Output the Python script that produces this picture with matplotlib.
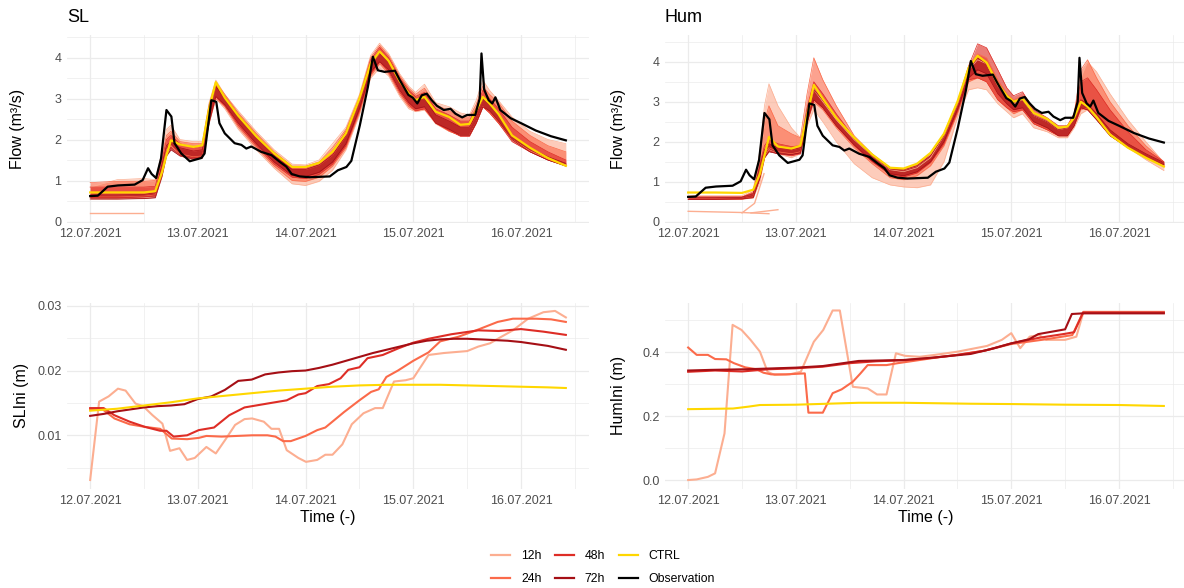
import matplotlib
matplotlib.use("Agg")
import matplotlib.pyplot as plt
from matplotlib.lines import Line2D

plt.rcParams['font.family'] = ['Liberation Sans', 'DejaVu Sans']

# ---------------------------------------------------------------------------
# Time axis: hours since 12.07.2021 00:00
# ---------------------------------------------------------------------------
day_ticks = [0, 24, 48, 72, 96]
day_labels = ['12.07.2021', '13.07.2021', '14.07.2021', '15.07.2021', '16.07.2021']
half_day_ticks = [12, 36, 60, 84, 108]

group_names = ['12h', '24h', '48h', '72h']
group_colors = ['#FCAE91', '#FB6A4A', '#DE2D26', '#A50F15']
ctrl_color = '#FFD700'
obs_color = '#000000'

# ---------------------------------------------------------------------------
# Observed discharge (m3/s)
# ---------------------------------------------------------------------------
obs_hours = [0, 1.7, 3.9, 6.2, 9.9, 11.7, 12.9, 13.7, 14.7, 15.8, 17.0, 18.1, 18.8,
             20.3, 22.2, 24.8, 25.5, 27.0, 28.1, 28.8, 30.0, 32.2, 33.7, 34.8, 35.9,
             38.1, 40.4, 42.2, 43.7, 44.9, 46.7, 48.9, 51.1, 53.4, 55.2, 57.1, 58.2,
             60.1, 61.9, 63.0, 64.1, 65.6, 67.9, 69.0, 70.9, 71.9, 72.9, 73.9, 75.0,
             76.1, 77.3, 78.8, 80.3, 81.4, 82.9, 84.0, 85.8, 86.8, 87.2, 87.8, 88.8,
             89.6, 90.3, 91.4, 93.7, 96.0, 99.3, 102.7, 106.0]
obs_flow = [0.62, 0.63, 0.85, 0.88, 0.90, 1.01, 1.30, 1.16, 1.06, 1.54, 2.72, 2.56, 1.91,
            1.66, 1.47, 1.55, 1.66, 2.96, 2.92, 2.40, 2.15, 1.91, 1.87, 1.78, 1.83,
            1.70, 1.62, 1.46, 1.34, 1.16, 1.10, 1.08, 1.09, 1.10, 1.25, 1.33, 1.48,
            2.35, 3.29, 4.02, 3.69, 3.65, 3.68, 3.45, 3.09, 3.02, 2.88, 3.08, 3.12,
            2.96, 2.82, 2.72, 2.75, 2.63, 2.54, 2.60, 2.60, 3.00, 4.10, 3.22, 2.96,
            2.88, 3.03, 2.72, 2.52, 2.40, 2.22, 2.08, 1.98]

# ---------------------------------------------------------------------------
# Simulated discharge: CTRL run and envelopes (lower / upper member) of each
# assimilation-window ensemble, on a common time grid
# ---------------------------------------------------------------------------
ens_hours = [0, 6, 12, 14.5, 16, 17, 18, 20, 23, 25, 26.5, 28, 30, 33, 37, 41, 45, 48,
             51, 54, 57, 60, 62.5, 64.5, 66.5, 69, 71, 72.5, 74.5, 77, 80, 82.5, 84.5,
             86, 87.5, 89, 91, 94, 98, 102, 106]

sl_ctrl = [0.71, 0.71, 0.71, 0.74, 1.20, 1.62, 1.98, 1.88, 1.82, 1.86, 2.75, 3.40, 3.02,
           2.58, 2.08, 1.66, 1.33, 1.33, 1.43, 1.70, 2.15, 3.00, 3.85, 4.15, 3.92, 3.42,
           3.12, 2.96, 3.04, 2.68, 2.55, 2.36, 2.38, 2.70, 3.04, 2.88, 2.62, 2.10, 1.80,
           1.55, 1.36]

sl_12h_lo = [0.55, 0.55, 0.58, 0.60, 1.10, 1.70, 1.85, 1.60, 1.50, 1.55, 2.40, 3.00, 2.75,
             2.25, 1.75, 1.30, 0.92, 0.88, 0.98, 1.25, 1.75, 2.60, 3.50, 3.75, 3.55, 3.05,
             2.75, 2.68, 2.72, 2.38, 2.20, 2.10, 2.10, 2.40, 2.80, 2.65, 2.40, 2.00, 1.72,
             1.52, 1.38]
sl_12h_hi = [0.84, 1.02, 1.05, 1.02, 1.70, 2.25, 2.35, 2.00, 1.95, 1.95, 2.90, 3.45, 3.10,
             2.70, 2.20, 1.75, 1.40, 1.38, 1.50, 1.90, 2.30, 3.10, 4.05, 4.35, 4.10, 3.60,
             3.30, 3.15, 3.35, 2.90, 2.80, 2.65, 2.60, 2.95, 3.45, 3.20, 2.95, 2.55, 2.20,
             2.00, 1.90]
sl_24h_lo = [0.60, 0.60, 0.62, 0.65, 1.20, 1.75, 1.85, 1.65, 1.58, 1.60, 2.45, 3.00, 2.80,
             2.30, 1.80, 1.35, 1.00, 0.98, 1.08, 1.35, 1.80, 2.65, 3.55, 3.85, 3.60, 3.10,
             2.80, 2.70, 2.75, 2.40, 2.20, 2.10, 2.10, 2.40, 2.80, 2.65, 2.40, 2.00, 1.72,
             1.52, 1.38]
sl_24h_hi = [0.95, 0.98, 0.98, 1.00, 1.60, 2.10, 2.20, 1.95, 1.90, 1.90, 2.85, 3.40, 3.10,
             2.65, 2.15, 1.70, 1.35, 1.35, 1.45, 1.80, 2.25, 3.05, 4.00, 4.30, 4.05, 3.55,
             3.25, 3.10, 3.25, 2.85, 2.70, 2.55, 2.55, 2.85, 3.30, 3.10, 2.90, 2.45, 2.10,
             1.85, 1.70]
sl_48h_lo = [0.58, 0.58, 0.60, 0.62, 1.15, 1.70, 1.80, 1.62, 1.55, 1.58, 2.45, 3.05, 2.82,
             2.35, 1.85, 1.40, 1.08, 1.05, 1.15, 1.40, 1.85, 2.70, 3.60, 3.90, 3.65, 3.15,
             2.85, 2.70, 2.75, 2.40, 2.22, 2.08, 2.08, 2.40, 2.80, 2.65, 2.40, 1.95, 1.70,
             1.50, 1.36]
sl_48h_hi = [0.84, 0.84, 0.84, 0.86, 1.50, 2.00, 2.10, 1.90, 1.80, 1.85, 2.80, 3.35, 3.05,
             2.60, 2.10, 1.65, 1.30, 1.30, 1.42, 1.70, 2.20, 3.00, 3.95, 4.25, 4.00, 3.50,
             3.20, 3.05, 3.15, 2.75, 2.60, 2.45, 2.45, 2.75, 3.20, 3.00, 2.75, 2.30, 1.95,
             1.70, 1.50]
sl_72h_lo = [0.55, 0.55, 0.56, 0.58, 1.10, 1.60, 1.75, 1.60, 1.52, 1.55, 2.40, 3.05, 2.85,
             2.40, 1.90, 1.45, 1.12, 1.10, 1.20, 1.45, 1.90, 2.75, 3.65, 3.90, 3.70, 3.20,
             2.90, 2.75, 2.80, 2.40, 2.25, 2.10, 2.10, 2.40, 2.80, 2.70, 2.45, 2.00, 1.70,
             1.50, 1.35]
sl_72h_hi = [0.65, 0.65, 0.66, 0.70, 1.40, 1.85, 1.95, 1.80, 1.72, 1.75, 2.70, 3.30, 3.00,
             2.55, 2.05, 1.62, 1.27, 1.27, 1.38, 1.62, 2.10, 2.95, 3.85, 4.10, 3.90, 3.40,
             3.10, 2.95, 3.00, 2.60, 2.45, 2.30, 2.30, 2.60, 3.00, 2.85, 2.60, 2.10, 1.80,
             1.58, 1.42]
# a short 12h member that starts far below the others
sl_12h_extra_hours = [0, 11.7]
sl_12h_extra_flow = [0.21, 0.21]

hum_ctrl = [0.73, 0.73, 0.72, 0.80, 1.20, 1.65, 2.12, 1.88, 1.83, 1.90, 2.65, 3.42, 3.08,
            2.60, 2.10, 1.68, 1.35, 1.33, 1.45, 1.72, 2.20, 3.00, 3.85, 4.15, 3.98, 3.45,
            3.15, 3.00, 3.08, 2.72, 2.57, 2.35, 2.38, 2.60, 3.00, 2.88, 2.62, 2.18, 1.85,
            1.60, 1.38]

hum_12h_lo = [0.56, 0.56, 0.56, 0.60, 1.00, 1.60, 1.80, 1.70, 1.60, 1.70, 2.40, 2.80, 2.50,
              2.00, 1.45, 1.10, 0.92, 0.87, 0.85, 0.92, 1.50, 2.60, 3.30, 3.35, 3.30, 2.95,
              2.75, 2.60, 2.70, 2.35, 2.25, 2.10, 2.10, 2.35, 2.70, 2.80, 2.60, 2.20, 1.85,
              1.55, 1.28]
hum_12h_hi = [0.65, 0.65, 0.65, 0.80, 1.80, 2.90, 3.45, 2.90, 2.35, 2.10, 2.70, 3.30, 3.00,
              2.55, 2.05, 1.65, 1.30, 1.25, 1.35, 1.60, 2.15, 2.95, 3.80, 4.05, 3.95, 3.40,
              3.10, 2.95, 3.05, 2.65, 2.50, 2.30, 2.35, 2.60, 3.60, 4.00, 3.75, 3.20, 2.55,
              2.00, 1.48]
hum_24h_lo = [0.57, 0.57, 0.57, 0.62, 1.10, 1.70, 1.85, 1.75, 1.70, 1.75, 2.50, 3.00, 2.80,
              2.35, 1.85, 1.45, 1.10, 1.05, 1.15, 1.40, 1.90, 2.70, 3.50, 3.60, 3.50, 3.05,
              2.85, 2.70, 2.80, 2.45, 2.30, 2.15, 2.15, 2.40, 2.80, 2.85, 2.60, 2.20, 1.85,
              1.60, 1.40]
hum_24h_hi = [0.62, 0.62, 0.62, 0.75, 1.60, 2.50, 2.90, 2.40, 2.20, 2.10, 3.20, 4.10, 3.55,
              2.90, 2.15, 1.70, 1.35, 1.30, 1.40, 1.70, 2.20, 3.00, 3.85, 4.20, 4.10, 3.55,
              3.20, 3.05, 3.15, 2.75, 2.55, 2.35, 2.40, 2.70, 3.80, 4.05, 3.60, 3.00, 2.40,
              1.90, 1.50]
hum_48h_lo = [0.56, 0.56, 0.57, 0.62, 1.10, 1.60, 1.78, 1.70, 1.65, 1.70, 2.50, 3.05, 2.85,
              2.40, 1.90, 1.50, 1.18, 1.12, 1.22, 1.48, 1.95, 2.75, 3.55, 3.60, 3.50, 3.05,
              2.85, 2.75, 2.80, 2.45, 2.30, 2.15, 2.15, 2.40, 2.85, 2.80, 2.55, 2.15, 1.85,
              1.62, 1.42]
hum_48h_hi = [0.62, 0.62, 0.62, 0.72, 1.45, 1.90, 2.05, 1.95, 1.88, 1.90, 2.85, 3.50, 3.20,
              2.70, 2.10, 1.68, 1.35, 1.32, 1.42, 1.70, 2.20, 3.00, 3.90, 4.45, 4.35, 3.80,
              3.35, 3.15, 3.25, 2.80, 2.60, 2.40, 2.40, 2.70, 3.50, 3.60, 3.30, 2.80, 2.25,
              1.80, 1.50]
hum_72h_lo = [0.56, 0.56, 0.57, 0.60, 1.10, 1.60, 1.75, 1.70, 1.68, 1.72, 2.50, 3.05, 2.85,
              2.40, 1.92, 1.52, 1.20, 1.15, 1.25, 1.50, 2.00, 2.80, 3.60, 3.80, 3.70, 3.20,
              2.95, 2.80, 2.85, 2.50, 2.35, 2.15, 2.15, 2.40, 2.85, 2.80, 2.55, 2.15, 1.85,
              1.62, 1.42]
hum_72h_hi = [0.60, 0.60, 0.61, 0.70, 1.40, 1.80, 1.95, 1.85, 1.80, 1.85, 2.70, 3.30, 3.05,
              2.60, 2.08, 1.65, 1.32, 1.30, 1.40, 1.65, 2.15, 2.95, 3.80, 4.10, 3.95, 3.45,
              3.15, 3.00, 3.05, 2.65, 2.50, 2.30, 2.35, 2.60, 3.05, 2.95, 2.70, 2.30, 1.95,
              1.70, 1.48]
# short 12h members that start far below the others
hum_12h_extra1_hours = [0, 12, 18]
hum_12h_extra1_flow = [0.26, 0.23, 0.20]
hum_12h_extra2_hours = [14, 17, 20]
hum_12h_extra2_flow = [0.22, 0.26, 0.30]
hum_12h_extra3_hours = [12, 14.8, 16.9]
hum_12h_extra3_flow = [0.22, 0.46, 1.20]

# ---------------------------------------------------------------------------
# Initial states SLIni (m)
# ---------------------------------------------------------------------------
sli_ctrl_hours = [0, 6, 12, 18, 24, 30, 36, 42, 48, 54, 60, 66, 72, 78, 84, 90, 96, 102, 106]
sli_ctrl = [0.0138, 0.0141, 0.0146, 0.0151, 0.0157, 0.0161, 0.0165, 0.0169, 0.0172, 0.0175,
            0.0177, 0.0178, 0.0178, 0.0178, 0.0177, 0.0176, 0.0175, 0.0174, 0.0173]

sli_72h_hours = [0, 3, 6, 9, 12, 15, 18, 21, 24, 27, 30, 33, 36, 39, 42, 45, 48, 51, 54, 57,
                 60, 63, 66, 69, 72, 75, 78, 81, 84, 87, 90, 93, 96, 99, 102, 106]
sli_72h = [0.0130, 0.0133, 0.0137, 0.0140, 0.0143, 0.0145, 0.0146, 0.0148, 0.0156, 0.0160,
           0.0170, 0.0184, 0.0186, 0.0194, 0.0197, 0.0199, 0.0200, 0.0204, 0.0209, 0.0215,
           0.0221, 0.0227, 0.0232, 0.0237, 0.0242, 0.0246, 0.0248, 0.0249, 0.0249, 0.0248,
           0.0247, 0.0246, 0.0244, 0.0241, 0.0238, 0.0232]

sli_48h_hours = [0, 3, 5.4, 8.8, 12.2, 15.6, 17, 18.6, 21.6, 24.2, 27.6, 31, 34.4, 39.5, 43.8,
                 46.4, 48, 50.6, 53.2, 55.8, 57.5, 60, 61.8, 65.2, 68.6, 72, 75.4, 80.5, 86.5,
                 91, 96, 101, 106]
sli_48h = [0.0142, 0.0142, 0.0131, 0.0121, 0.0113, 0.0107, 0.0107, 0.0098, 0.0100, 0.0108,
           0.0112, 0.0131, 0.0143, 0.0149, 0.0154, 0.0163, 0.0165, 0.0176, 0.0179, 0.0188,
           0.0201, 0.0205, 0.0219, 0.0224, 0.0234, 0.0243, 0.0249, 0.0256, 0.0262, 0.0261,
           0.0264, 0.0260, 0.0255]

sli_24h_hours = [0, 2.8, 5.4, 8.8, 12.2, 15.6, 18.2, 21.6, 24.2, 25.9, 29.3, 32.7, 36.1, 39.5,
                 41.3, 43, 44.7, 48, 50.6, 52.4, 56.6, 60, 62.6, 64.3, 66, 68.6, 72, 75.4, 78,
                 82, 86, 90.8, 94.2, 99.3, 102.7, 106]
sli_24h = [0.0140, 0.0140, 0.0126, 0.0117, 0.0113, 0.0110, 0.0095, 0.0094, 0.0096, 0.0099,
           0.0098, 0.0099, 0.0100, 0.0100, 0.0098, 0.0091, 0.0091, 0.0099, 0.0108, 0.0112,
           0.0136, 0.0154, 0.0167, 0.0171, 0.0190, 0.0200, 0.0215, 0.0228, 0.0245, 0.0252,
           0.0262, 0.0275, 0.0280, 0.0280, 0.0279, 0.0275]

sli_12h_hours = [0, 2, 4.1, 6.2, 7.9, 10.1, 11.8, 13.9, 16.1, 17.8, 19.9, 21.6, 23.3, 25.9, 28,
                 30.1, 32.3, 34.4, 36.1, 38.7, 40.4, 42.1, 43.8, 46.4, 48.1, 50.6, 52.4, 54,
                 56.2, 58.3, 60.9, 63.5, 65.2, 67.7, 70.3, 72, 75.4, 78.8, 84, 86.5, 89.1,
                 91.6, 94.2, 97.6, 101, 103.6, 106]
sli_12h = [0.0031, 0.0152, 0.0160, 0.0172, 0.0169, 0.0149, 0.0145, 0.0131, 0.0118, 0.0076,
           0.0080, 0.0062, 0.0065, 0.0082, 0.0072, 0.0093, 0.0116, 0.0125, 0.0126, 0.0121,
           0.0110, 0.0110, 0.0077, 0.0065, 0.0059, 0.0062, 0.0070, 0.0070, 0.0086, 0.0117,
           0.0134, 0.0142, 0.0142, 0.0183, 0.0185, 0.0188, 0.0224, 0.0227, 0.0230, 0.0237,
           0.0242, 0.0252, 0.0262, 0.0280, 0.0290, 0.0292, 0.0282]

# ---------------------------------------------------------------------------
# Initial states HumIni (m)
# ---------------------------------------------------------------------------
humi_ctrl_hours = [0, 10, 13.5, 16, 24, 38, 48, 63, 72, 84, 96, 106]
humi_ctrl = [0.222, 0.224, 0.230, 0.235, 0.236, 0.242, 0.242, 0.239, 0.238, 0.236, 0.235, 0.232]

humi_72h_hours = [0, 5, 13, 24, 30, 38, 48, 55, 63, 68, 72, 76, 78, 84, 85.5, 88, 106]
humi_72h = [0.343, 0.345, 0.347, 0.352, 0.357, 0.373, 0.376, 0.384, 0.395, 0.412, 0.428,
            0.441, 0.457, 0.472, 0.520, 0.522, 0.522]

humi_48h_hours = [0, 6, 12, 18, 24, 30, 36, 42, 48, 54, 60, 66, 72, 78, 84, 86, 88, 106]
humi_48h = [0.339, 0.343, 0.340, 0.347, 0.350, 0.355, 0.366, 0.372, 0.375, 0.382, 0.392,
            0.405, 0.428, 0.445, 0.458, 0.463, 0.525, 0.525]

humi_24h_hours = [0, 1.9, 4.4, 6, 8.5, 10.2, 12.7, 15.2, 16.8, 18.5, 21.8, 26, 26.8, 30, 32.2,
                  34.2, 36.7, 38.4, 40, 44.2, 46.7, 49.2, 55, 60, 66, 72, 79.8, 85.6, 88, 106]
humi_24h = [0.415, 0.392, 0.392, 0.379, 0.378, 0.366, 0.353, 0.347, 0.336, 0.331, 0.331,
            0.334, 0.211, 0.211, 0.272, 0.284, 0.308, 0.334, 0.360, 0.360, 0.366, 0.371,
            0.383, 0.392, 0.405, 0.426, 0.441, 0.454, 0.524, 0.524]

humi_12h_hours = [0, 1.9, 4.4, 6, 8.1, 9.9, 11.9, 13.9, 16, 17.7, 19.3, 22.6, 25.1, 28, 30.1,
                  32.2, 33.8, 36.7, 40, 42.1, 44.2, 46.3, 48.3, 51.6, 55, 60, 66.6, 69.9, 72,
                  74, 76.1, 78.2, 79.8, 84, 86.5, 88.1, 106]
humi_12h = [0.0, 0.002, 0.010, 0.021, 0.146, 0.486, 0.470, 0.439, 0.402, 0.339, 0.329, 0.331,
            0.339, 0.433, 0.470, 0.531, 0.531, 0.292, 0.287, 0.268, 0.268, 0.397, 0.389,
            0.386, 0.392, 0.402, 0.420, 0.439, 0.460, 0.413, 0.449, 0.454, 0.439, 0.439,
            0.449, 0.527, 0.527]

# ---------------------------------------------------------------------------
# Figure layout
# ---------------------------------------------------------------------------
W, H = 1184, 588
fig = plt.figure(figsize=(W / 100, H / 100), dpi=100)


def add_panel(x0, x1, y0, y1):
    return fig.add_axes([x0 / W, 1 - y1 / H, (x1 - x0) / W, (y1 - y0) / H])


ax_sl = add_panel(67, 589, 35, 222.5)
ax_hum = add_panel(665, 1187, 35, 222.5)
ax_sli = add_panel(67, 589, 302.5, 489)
ax_humi = add_panel(665, 1187, 302.5, 489)

GRID = '#EBEBEB'
TICK_COLOR = '#4D4D4D'


def style(ax, ylim, yticks, ylabels, yminor):
    ax.set_xlim(-5.16, 111.16)
    ax.set_ylim(*ylim)
    for s in ax.spines.values():
        s.set_visible(False)
    ax.set_xticks(day_ticks)
    ax.set_xticklabels(day_labels)
    ax.set_xticks(half_day_ticks, minor=True)
    ax.set_yticks(yticks)
    ax.set_yticklabels(ylabels)
    ax.set_yticks(yminor, minor=True)
    ax.tick_params(which='both', length=0, labelsize=9, labelcolor=TICK_COLOR, pad=4)
    ax.grid(which='major', color=GRID, lw=0.9)
    ax.grid(which='minor', color=GRID, lw=0.5)
    ax.set_axisbelow(True)


def draw_ensemble(ax, bands, ctrl):
    for (lo, hi), col in zip(bands, group_colors):
        ax.fill_between(ens_hours, lo, hi, color=col, alpha=0.62, lw=0)
        ax.plot(ens_hours, lo, color=col, lw=0.5)
        ax.plot(ens_hours, hi, color=col, lw=0.5)
    ax.plot(ens_hours, ctrl, color=ctrl_color, lw=1.6)
    ax.plot(obs_hours, obs_flow, color=obs_color, lw=1.6)


# --- SL discharge ---
ax_sl.plot(sl_12h_extra_hours, sl_12h_extra_flow, color=group_colors[0], lw=1.0)
draw_ensemble(ax_sl,
              [(sl_12h_lo, sl_12h_hi), (sl_24h_lo, sl_24h_hi),
               (sl_48h_lo, sl_48h_hi), (sl_72h_lo, sl_72h_hi)],
              sl_ctrl)
style(ax_sl, (-0.024, 4.55), [0, 1, 2, 3, 4], ['0', '1', '2', '3', '4'],
      [0.5, 1.5, 2.5, 3.5, 4.5])

# --- Hum discharge ---
for hh, ff in [(hum_12h_extra1_hours, hum_12h_extra1_flow),
               (hum_12h_extra2_hours, hum_12h_extra2_flow),
               (hum_12h_extra3_hours, hum_12h_extra3_flow)]:
    ax_hum.plot(hh, ff, color=group_colors[0], lw=1.0)
draw_ensemble(ax_hum,
              [(hum_12h_lo, hum_12h_hi), (hum_24h_lo, hum_24h_hi),
               (hum_48h_lo, hum_48h_hi), (hum_72h_lo, hum_72h_hi)],
              hum_ctrl)
style(ax_hum, (-0.02, 4.67), [0, 1, 2, 3, 4], ['0', '1', '2', '3', '4'],
      [0.5, 1.5, 2.5, 3.5, 4.5])

# --- SLIni ---
for hh, vv, col in [(sli_12h_hours, sli_12h, group_colors[0]),
                    (sli_24h_hours, sli_24h, group_colors[1]),
                    (sli_48h_hours, sli_48h, group_colors[2]),
                    (sli_72h_hours, sli_72h, group_colors[3]),
                    (sli_ctrl_hours, sli_ctrl, ctrl_color)]:
    ax_sli.plot(hh, vv, color=col, lw=1.5)
style(ax_sli, (0.00171, 0.0305), [0.01, 0.02, 0.03], ['0.01', '0.02', '0.03'],
      [0.005, 0.015, 0.025])

# --- HumIni ---
for hh, vv, col in [(humi_12h_hours, humi_12h, group_colors[0]),
                    (humi_24h_hours, humi_24h, group_colors[1]),
                    (humi_48h_hours, humi_48h, group_colors[2]),
                    (humi_72h_hours, humi_72h, group_colors[3]),
                    (humi_ctrl_hours, humi_ctrl, ctrl_color)]:
    ax_humi.plot(hh, vv, color=col, lw=1.5)
style(ax_humi, (-0.028, 0.556), [0.0, 0.2, 0.4], ['0.0', '0.2', '0.4'],
      [0.1, 0.3, 0.5])

# --- labels and titles ---
ax_sl.set_ylabel('Flow (m³/s)', fontsize=11.5)
ax_hum.set_ylabel('Flow (m³/s)', fontsize=11.5)
ax_sli.set_ylabel('SLIni (m)', fontsize=11.5)
ax_humi.set_ylabel('HumIni (m)', fontsize=11.5)
ax_sl.yaxis.set_label_coords(-0.08, 0.5)
ax_hum.yaxis.set_label_coords(-0.075, 0.5)
ax_sli.yaxis.set_label_coords(-0.072, 0.5)
ax_humi.yaxis.set_label_coords(-0.075, 0.5)

for ax in (ax_sli, ax_humi):
    ax.set_xlabel('Time (-)', fontsize=11.5)
    ax.xaxis.set_label_coords(0.5, -0.115)

ax_sl.text(0, 1.096, 'SL', transform=ax_sl.transAxes, fontsize=13, ha='left', va='center')
ax_hum.text(0, 1.096, 'Hum', transform=ax_hum.transAxes, fontsize=13, ha='left', va='center')

# --- legend ---
handles = [Line2D([], [], color=c, lw=1.6) for c in group_colors + [ctrl_color, obs_color]]
labels = group_names + ['CTRL', 'Observation']
fig.legend(handles, labels, loc='center', bbox_to_anchor=(603 / W, 1 - 567.5 / H),
           ncol=3, frameon=False, fontsize=8.8, handlelength=1.55, handletextpad=0.9,
           columnspacing=1.1, labelspacing=0.9)

fig.savefig('out.png', dpi=100)
